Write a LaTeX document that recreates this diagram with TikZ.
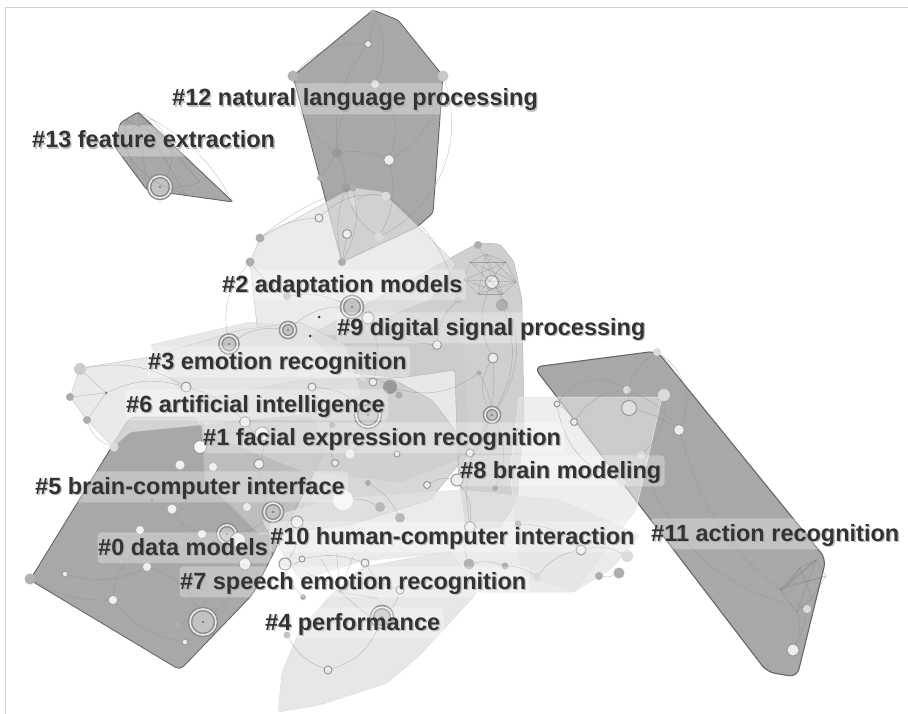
\documentclass[tikz,border=0pt]{standalone}
\usepackage{fontspec}
\setmainfont{Liberation Sans}
\usetikzlibrary{calc}

\tikzset{
  hull/.style={line join=round, rounded corners=3pt},
  darkhull/.style={hull, fill=black!34, draw=black!60, line width=0.9pt},
  midhull/.style={hull, fill=black!22, draw=black!28, line width=0.5pt},
  lighthull/.style={hull, fill=black!11, draw=black!20, line width=0.5pt},
  link/.style={draw=black!45, line width=0.35pt, opacity=0.6},
  mesh/.style={draw=black!55, line width=0.3pt, opacity=0.5},
  dot/.style={circle, inner sep=0pt, minimum size=#1, fill=black!32},
  dot/.default=7pt,
  pale/.style={circle, inner sep=0pt, minimum size=#1, fill=black!14},
  pale/.default=8pt,
  ring/.style={circle, inner sep=0pt, minimum size=#1, draw=black!40, line width=1pt, fill=black!7},
  ring/.default=9pt,
  hub/.style={circle, inner sep=0pt, minimum size=#1, draw=black!45, line width=1.5pt,
    double=black!9, double distance=1.6pt, fill=black!24,
    path picture={\fill[black!55] (path picture bounding box.center) circle (1.2pt);}},
  labfont/.style={font=\fontsize{23.5}{26}\selectfont\bfseries},
  labshade/.style={labfont, anchor=base west, inner xsep=2pt, inner ysep=0pt,
    text height=24pt, text depth=7pt, xshift=1.3pt, yshift=-1.3pt,
    fill=white, fill opacity=0.3, text=black!35, text opacity=0.7, rounded corners=4pt},
  labtext/.style={labfont, anchor=base west, inner xsep=2pt, inner ysep=0pt,
    text height=24pt, text depth=7pt, text=black!80},
}

\newcommand\clusterlabel[3]{%
  \node[labshade] at #2 {#3};
  \node[labtext] (#1) at #2 {#3};}

\begin{document}
\begin{tikzpicture}[x=1pt, y=-1pt]
\useasboundingbox (0,0) rectangle (908,714);
\fill[white] (0,0) rectangle (908,714);
\draw[black!18, line width=1pt] (5,714) -- (5,8) -- (908,8);

% ---------- cluster hulls ----------
% #12 natural language processing
\path[darkhull] (293,76) -- (373,10) -- (398,20) -- (443,76) -- (433,213) -- (417,227) -- (342,262) -- cycle;
% #13 feature extraction
\path[darkhull] (138,112) -- (120,123) -- (115,147) -- (147,190) -- (233,202) -- cycle;
% #11 action recognition
\path[darkhull, rounded corners=8pt, line width=1.1pt] (534,367) -- (657,351) -- (826,559) -- (797,677) -- (767,672) -- cycle;
% #5 / #0
\path[darkhull, rounded corners=5pt] (30,580) -- (130,417) -- (312,417) -- (325,450) -- (253,594) -- (180,670) -- cycle;

% #6 artificial intelligence (wide pale hull under the centre)
\path[lighthull, fill opacity=0.8, draw=black!12] (150,345) -- (250,322) -- (340,330) -- (462,338) -- (470,455) -- (400,482) -- (300,470) -- (205,432) -- cycle;
% #9 digital signal processing
\path[midhull, fill opacity=0.85] (310,335) -- (478,243) -- (500,244) -- (514,262) -- (522,300) -- (524,420) -- (517,500) -- (500,528) -- (466,528) -- (458,470) -- (455,370) -- (400,378) -- (345,372) -- cycle;
% #1 facial expression recognition
\path[midhull, fill opacity=0.7] (200,400) -- (300,380) -- (390,378) -- (432,400) -- (470,450) -- (430,500) -- (350,525) -- (260,535) -- (205,480) -- cycle;
% #2 adaptation models
\path[lighthull, fill opacity=0.7] (250,262) -- (260,238) -- (353,188) -- (382,192) -- (456,264) -- (430,300) -- (340,335) -- (258,335) -- cycle;
% #3 emotion recognition
\path[lighthull, fill opacity=0.75] (80,368) -- (150,357) -- (240,330) -- (300,322) -- (345,345) -- (362,395) -- (300,415) -- (200,425) -- (130,432) -- (113,447) -- (87,420) -- (70,397) -- cycle;
% #8 brain modeling
\path[lighthull, fill opacity=0.6, draw=black!8] (519,397) -- (662,397) -- (636,510) -- (574,592) -- (521,574) -- (510,470) -- cycle;
% #10 human-computer interaction
\path[lighthull, fill opacity=0.7, draw=black!10] (262,520) -- (330,500) -- (460,490) -- (560,500) -- (640,535) -- (612,568) -- (574,592) -- (478,592) -- (452,552) -- (363,561) -- (300,580) -- cycle;
% #4 performance
\path[lighthull, fill opacity=0.85, draw=black!12] (278,712) -- (282,672) -- (300,630) -- (330,596) -- (363,567) -- (450,551) -- (478,592) -- (420,655) -- (387,683) -- (320,705) -- cycle;

% ---------- nodes ----------
% #12
\node[dot=5pt] (k1) at (373,12) {};
\node[ring=7pt] (k2) at (368,44) {};
\node[pale=8pt] (k3) at (375,84) {};
\node[dot=10pt, fill=black!40] (k4) at (337,153) {};
\node[ring=11pt] (k5) at (389,160) {};
\node[dot=11pt, fill=black!30] (k6) at (293,76) {};
\node[dot=11pt, fill=black!22] (k7) at (443,76) {};
\node[dot=6pt] (k8) at (320,178) {};
\node[dot=9pt, fill=black!38] (k9) at (346,188) {};
\node[pale=9pt] (k10) at (353,202) {};
\node[ring=9pt] (k11) at (347,234) {};
\node[pale=9pt] (k12) at (379,237) {};
\node[dot=8pt] (k13) at (342,262) {};
% #13
\node[hub=22pt] (f1) at (160,187) {};
\coordinate (m1) at (138,112); \coordinate (m2) at (126,120); \coordinate (m3) at (118,136);
\coordinate (m4) at (152,119); \coordinate (m5) at (170,140); \coordinate (m6) at (200,182);
\coordinate (m7) at (233,202); \coordinate (m8) at (185,194); \coordinate (m9) at (147,190);
% #2
\node[dot=9pt] (a1) at (260,238) {};
\node[dot=9pt] (a2) at (250,262) {};
\node[ring=8pt] (a3) at (319,218) {};
\node[pale=9pt] (a4) at (386,196) {};
\node[dot=8pt, fill=black!25] (a6) at (287,296) {};
\node[hub=20pt] (a7) at (352,307) {};
\node[ring=12pt] (a8) at (368,318) {};
\node[hub=14pt] (a9) at (288,330) {};
\node[dot=3pt, fill=black!75] (a10) at (319,317) {};
\node[dot=3pt, fill=black!75] (a11) at (310,336) {};
\node[hub=17pt] (a12) at (229,344) {};
\node[dot=7pt] (a13) at (353,188) {};
% #9
\node[dot=8pt] (g1) at (478,245) {};
\node[ring=13pt] (g2) at (492,282) {};
\node[dot=12pt, fill=black!32] (g3) at (502,305) {};
\node[dot=7pt, fill=black!25] (g4) at (458,300) {};
\node[ring=9pt] (g5) at (437,345) {};
\node[ring=10pt] (g6) at (493,358) {};
\node[dot=5pt] (g7) at (479,373) {};
\node[hub=14pt] (g8) at (492,415) {};
\coordinate (q1) at (470,262); \coordinate (q2) at (486,254); \coordinate (q3) at (506,262);
\coordinate (q4) at (516,282); \coordinate (q5) at (503,294); \coordinate (q6) at (478,294);
\coordinate (q7) at (464,280);
% #3
\node[pale=12pt, fill=black!20] (c1) at (80,369) {};
\node[dot=8pt] (c2) at (70,397) {};
\node[dot=8pt] (c3) at (87,420) {};
\node[dot=3pt, fill=black!50] (c4) at (106,393) {};
\node[ring=10pt] (c5) at (186,387) {};
\node[pale=9pt] (c6) at (114,447) {};
\node[ring=11pt] (c7) at (245,422) {};
\node[ring=8pt] (c8) at (312,387) {};
\node[pale=8pt] (c9) at (363,377) {};
\node[ring=8pt] (c10) at (373,382) {};
% #6 / #1 / #0 / #7 / #10 / #4 / #8
\node[hub=24pt] (e1) at (368,415) {};
\node[dot=6pt] (e2) at (332,425) {};
\node[ring=13pt, fill=black!3] (e3) at (200,447) {};
\node[ring=14pt, fill=black!3] (e4) at (262,434) {};
\node[pale=9pt, fill=black!6] (e5) at (180,465) {};
\node[pale=8pt, fill=black!6] (e6) at (213,467) {};
\node[ring=10pt] (e7) at (259,464) {};
\node[ring=7pt] (e8) at (335,463) {};
\node[pale=9pt, fill=black!6] (e9) at (350,454) {};
\node[ring=6pt] (e10) at (397,454) {};
\node[pale=20pt, fill=black!3] (e11) at (343,500) {};
\node[dot=10pt, fill=black!28] (e12) at (380,507) {};
\node[dot=6pt] (e13) at (368,483) {};
\node[hub=18pt] (e14) at (273,512) {};
\node[ring=12pt] (e15) at (297,522) {};
\node[pale=8pt, fill=black!8] (e16) at (247,507) {};
\node[pale=9pt, fill=black!6] (e17) at (172,509) {};
\node[dot=3pt, fill=black!50] (e18) at (152,500) {};
\node[pale=8pt, fill=black!6] (e19) at (140,530) {};
\node[hub=18pt] (e20) at (227,534) {};
\node[ring=15pt] (e21) at (238,540) {};
\node[pale=8pt, fill=black!6] (e22) at (202,534) {};
\node[dot=11pt, fill=black!38] (e23) at (137,550) {};
\node[pale=8pt, fill=black!6] (e24) at (147,567) {};
\node[pale=8pt, fill=black!6] (e25) at (113,600) {};
\node[ring=6pt] (e26) at (65,574) {};
\node[dot=11pt, fill=black!30] (e27) at (30,579) {};
\node[dot=6pt] (e28) at (178,625) {};
\node[hub=26pt] (e29) at (203,622) {};
\node[ring=6pt] (e30) at (185,642) {};
\node[ring=12pt] (e31) at (245,564) {};
\node[ring=12pt] (e32) at (285,564) {};
\node[ring=6pt] (e33) at (302,559) {};
\node[ring=8pt] (e34) at (365,563) {};
\node[ring=8pt] (e35) at (400,590) {};
\node[hub=20pt] (e36) at (382,617) {};
\node[ring=8pt] (e37) at (328,670) {};
\node[dot=7pt] (e38) at (287,635) {};
\node[dot=6pt] (e39) at (303,597) {};
\node[dot=10pt, fill=black!28] (e40) at (400,518) {};
\node[dot=14pt, fill=black!40] (e41) at (390,387) {};
\node[dot=7pt] (e42) at (399,395) {};
\node[ring=7pt] (e43) at (427,485) {};
\node[ring=8pt] (e44) at (470,453) {};
\node[ring=12pt] (e45) at (457,480) {};
\node[dot=6pt] (e46) at (495,488) {};
\node[ring=11pt] (e47) at (470,527) {};
\node[dot=11pt, fill=black!30] (e48) at (469,564) {};
\node[dot=7pt] (e49) at (505,566) {};
\node[pale=8pt] (e50) at (537,577) {};
\node[dot=8pt] (e51) at (599,576) {};
\node[dot=11pt] (e52) at (619,573) {};
\node[pale=12pt] (e53) at (627,556) {};
\node[ring=10pt] (e54) at (581,550) {};
\node[dot=7pt] (e55) at (518,524) {};
\node[ring=6pt] (e56) at (557,404) {};
\node[ring=7pt] (e57) at (574,422) {};
\node[pale=8pt] (e58) at (622,482) {};
% #11
\node[pale=8pt] (h1) at (657,352) {};
\node[pale=8pt] (h2) at (627,390) {};
\node[pale=12pt] (h3) at (664,395) {};
\node[ring=15pt, fill=black!12] (h4) at (629,408) {};
\node[ring=11pt] (h5) at (679,430) {};
\node[pale=8pt] (h6) at (641,455) {};
\node[pale=8pt] (h7) at (807,609) {};
\node[ring=12pt] (h8) at (793,650) {};
\coordinate (r1) at (787,586); \coordinate (r2) at (800,568); \coordinate (r3) at (816,560);
\coordinate (r4) at (826,576); \coordinate (r5) at (812,598); \coordinate (r6) at (797,612);
\coordinate (r7) at (780,590);
\coordinate (s0) at (340,592);

% ---------- links ----------
\draw[link] (k1) to[bend left=10] (k2);
\draw[link] (k2) to[bend right=20] (k4);
\draw[link] (k1) to[bend left=25] (k3);
\draw[link] (k3) to[bend left=30] (k5);
\draw[link] (k6) to[bend right=25] (k4);
\draw[link] (k4) to[bend left=15] (k5);
\draw[link] (k5) to[bend right=25] (k7);
\draw[link] (k4) to[bend left=10] (k9);
\draw[link] (k9) to[bend right=20] (k12);
\draw[link] (k5) to[bend left=20] (k12);
\draw[link] (k6) to[bend left=25] (k2);
\draw[link] (k8) to (k4);
\draw[link] (k9) to[bend right=15] (k13);
\draw[link] (k11) to (k13);
\draw[link] (k3) to[bend right=30] (k4);
\draw[link] (k7) to[bend left=40] (k12);
\draw[link] (k10) to[bend left=20] (a4);
\foreach \p in {m2,m3,m4,m5,m6,m7,m8,m9} \draw[mesh] (m1) -- (\p);
\draw[mesh] (m2) to[bend right=20] (m9) (m4) to[bend left=15] (m7) (m3) -- (m4) -- (m5) -- (m2);
\draw[mesh] (m5) to[bend left=20] (f1) (m6) to[bend left=10] (f1) (m3) to[bend right=25] (m8);
\draw[link] (a1) to[bend left=15] (a3);
\draw[link] (a2) to[bend right=10] (a6);
\draw[link] (a3) to[bend left=25] (a4);
\draw[link] (a6) to[bend left=15] (a7);
\draw[link] (a7) to[bend right=20] (a9);
\draw[link] (a12) to[bend left=20] (a9);
\draw[link] (a1) to[bend left=10] (a13);
\draw[link] (a13) to[bend left=20] (k13);
\draw[link] (a2) to[bend right=25] (a12);
\draw[link] (a4) to[bend left=20] (g4);
\foreach \p/\r in {q1/q2,q2/q3,q3/q4,q4/q5,q5/q6,q6/q7,q7/q1,q1/q3,q1/q4,q1/q5,q2/q5,q2/q6,q3/q6,q3/q7,q4/q6,q4/q7,q5/q7,q2/q4}
  \draw[mesh] (\p) -- (\r);
\draw[link] (g1) to[bend left=10] (g2);
\draw[link] (g2) to[bend left=10] (g3);
\draw[link] (g2) to[bend right=25] (g6);
\draw[link] (g6) to[bend right=30] (g8);
\draw[link] (g3) to[bend left=25] (g8);
\draw[link] (g4) to[bend right=20] (g5);
\draw[link] (g5) to[bend left=15] (a8);
\draw[link] (g7) to[bend left=10] (g8);
\draw[link] (g2) to[bend left=35] (g8);
\draw[link] (g6) to[bend left=20] (e45);
\draw[link] (g8) to[bend right=20] (e47);
\draw[link] (g8) to[bend left=25] (e46);
\draw[link] (c1) -- (c4) (c2) -- (c4) (c3) -- (c4);
\draw[link] (c4) to[bend left=20] (c5);
\draw[link] (c1) to[bend left=20] (c5);
\draw[link] (c5) to[bend left=15] (c7);
\draw[link] (c3) to[bend right=25] (c6);
\draw[link] (c7) to[bend right=20] (e4);
\draw[link] (c8) to[bend left=20] (e1);
\draw[link] (c9) to[bend left=15] (e41);
\draw[link] (c10) to[bend right=20] (a8);
\draw[link] (e3) to[bend left=20] (e4);
\draw[link] (e4) to[bend left=15] (e7);
\draw[link] (e7) to[bend right=15] (e14);
\draw[link] (e14) to[bend left=20] (e20);
\draw[link] (e20) to[bend left=10] (e21);
\draw[link] (e21) to[bend left=20] (e31);
\draw[link] (e17) to[bend right=20] (e22);
\draw[link] (e19) to[bend left=15] (e23);
\draw[link] (e23) to[bend right=20] (e25);
\draw[link] (e25) to[bend left=15] (e27);
\draw[link] (e26) to[bend right=20] (e24);
\draw[link] (e24) to[bend left=25] (e29);
\draw[link] (e28) to[bend left=15] (e29);
\draw[link] (e29) to[bend right=15] (e31);
\draw[link] (e30) to[bend left=20] (e25);
\draw[link] (e1) to[bend left=20] (e9);
\draw[link] (e2) to[bend right=20] (e8);
\draw[link] (e11) to[bend left=15] (e12);
\draw[link] (e13) to[bend left=15] (e40);
\draw[link] (e15) to[bend left=20] (e32);
\draw[link] (e32) to[bend right=20] (e33);
\draw[link] (e33) to[bend left=15] (e34);
\draw[link] (e34) to[bend right=20] (e35);
\draw[link] (e35) to[bend left=15] (e36);
\draw[link] (e36) to[bend left=25] (e37);
\draw[link] (e38) to[bend right=20] (e37);
\draw[link] (e39) to[bend left=15] (e32);
\draw[link] (e43) to[bend left=20] (e45);
\draw[link] (e44) to[bend right=15] (e45);
\draw[link] (e45) to[bend left=20] (e47);
\draw[link] (e47) to[bend right=20] (e48);
\draw[link] (e48) to[bend left=15] (e49);
\draw[link] (e49) to[bend left=15] (e50);
\draw[link] (e50) to[bend left=20] (e54);
\draw[link] (e54) to[bend left=20] (e53);
\draw[link] (e51) to[bend right=15] (e52);
\draw[link] (e55) to[bend left=20] (e54);
\draw[link] (e56) to[bend left=15] (e57);
\draw[link] (e57) to[bend left=25] (h2);
\draw[link] (e56) to[bend right=30] (e58);
\draw[link] (e41) to[bend left=15] (e42);
\draw[link] (e41) to[bend right=25] (g7);
\foreach \a in {-150,-120,-95,-70,-45,-20,10,40} \draw[mesh] (s0) -- ++(\a:38);
% #11
\draw[link] (h1) to[bend right=30] (h4);
\draw[link] (h2) to[bend left=15] (h5);
\draw[link] (h4) to[bend left=10] (h5);
\draw[link] (h5) to[bend right=20] (h7);
\draw[link] (h3) to[bend left=25] (h6);
\draw[link] (e56) to[bend left=45] (h2);
\draw[link] (h6) to[bend right=30] (h7);
\draw[link] (h7) to[bend left=10] (h8);
\draw[link] (h1) to[bend left=40] (h5);
\foreach \p/\r in {r1/r2,r2/r3,r3/r4,r4/r5,r5/r6,r6/r7,r7/r1,r1/r3,r1/r4,r7/r3,r7/r4,r2/r5,r6/r3,r7/r2}
  \draw[mesh] (\p) -- (\r);
\draw[link] (r6) to[bend left=20] (h8);

% ---------- cluster labels ----------
\clusterlabel{L12}{(170,106)}{\#12 natural language processing}
\clusterlabel{L13}{(30,148)}{\#13 feature extraction}
\clusterlabel{L2}{(220,292)}{\#2 adaptation models}
\clusterlabel{L9}{(335,335)}{\#9 digital signal processing}
\clusterlabel{L3}{(146,369)}{\#3 emotion recognition}
\clusterlabel{L6}{(124,412)}{\#6 artificial intelligence}
\clusterlabel{L1}{(201,445)}{\#1 facial expression recognition}
\clusterlabel{L8}{(458,478)}{\#8 brain modeling}
\clusterlabel{L5}{(33,494)}{\#5 brain-computer interface}
\clusterlabel{L11}{(649,541)}{\#11 action recognition}
\clusterlabel{L10}{(268,544)}{\#10 human-computer interaction}
\clusterlabel{L0}{(96,555)}{\#0 data models}
\clusterlabel{L7}{(178,589)}{\#7 speech emotion recognition}
\clusterlabel{L4}{(263,630)}{\#4 performance}
\end{tikzpicture}
\end{document}
